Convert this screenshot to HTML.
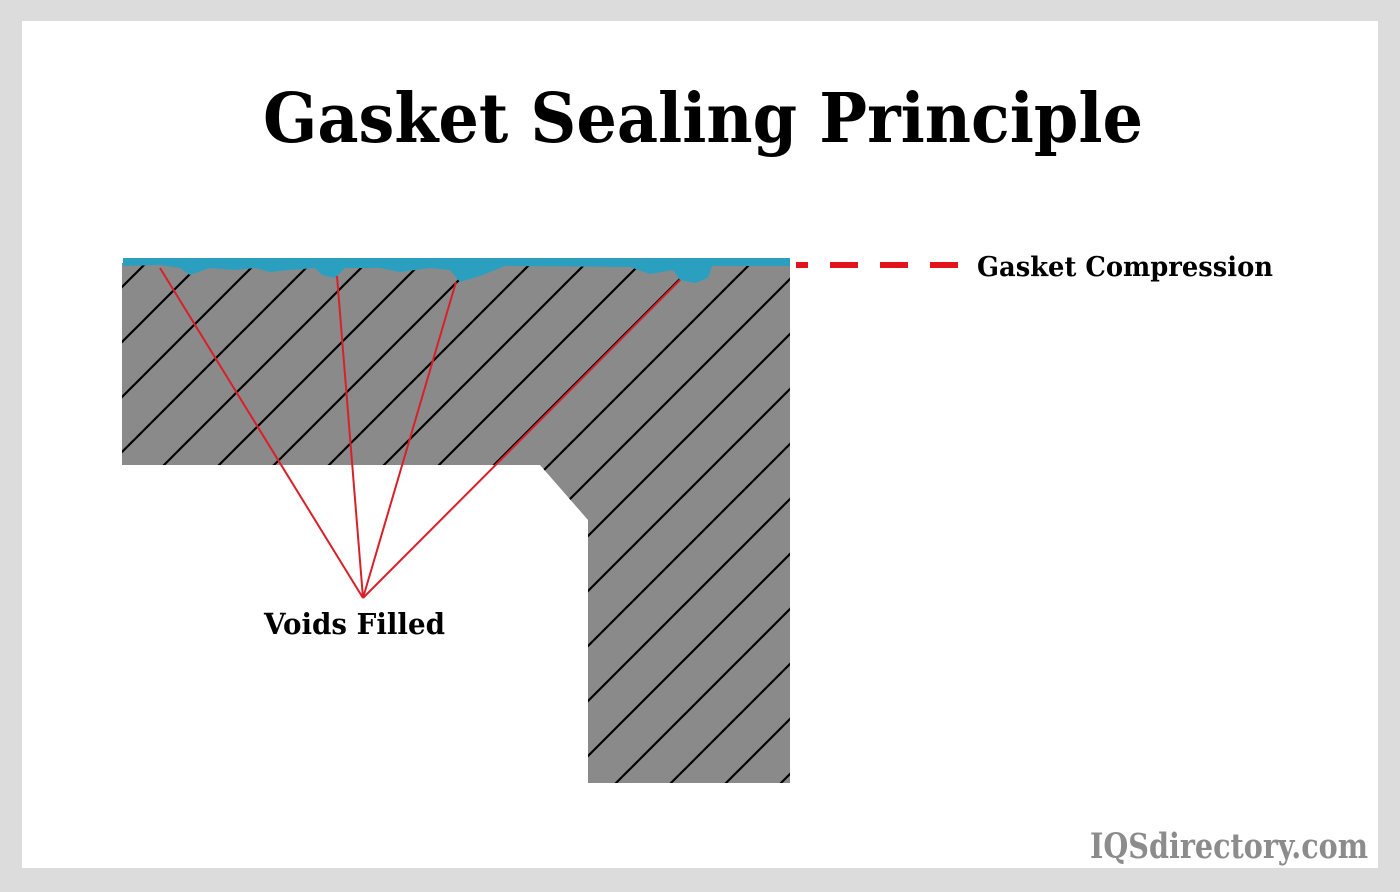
<!DOCTYPE html>
<html><head><meta charset="utf-8"><style>
html,body{margin:0;padding:0;}
body{width:1400px;height:892px;background:#dcdcdc;position:relative;overflow:hidden;}
.inner{position:absolute;left:22px;top:21px;width:1356px;height:847px;background:#fff;}
svg{position:absolute;left:0;top:0;}
</style></head><body>
<div class="inner"></div>
<svg width="1400" height="892" viewBox="0 0 1400 892">
<defs>
<pattern id="h" patternUnits="userSpaceOnUse" width="55" height="55" patternTransform="translate(24,0)">
<line x1="-5" y1="60" x2="60" y2="-5" stroke="#000" stroke-width="2.2"/>
<line x1="-5" y1="5" x2="5" y2="-5" stroke="#000" stroke-width="2.2"/>
<line x1="50" y1="60" x2="60" y2="50" stroke="#000" stroke-width="2.2"/>
</pattern>
</defs>
<text x="263" y="142" textLength="880" lengthAdjust="spacingAndGlyphs" font-family="DejaVu Serif, Liberation Serif, serif" font-weight="bold" font-size="68" fill="#000">Gasket Sealing Principle</text>
<polygon points="122,263 790,263 790,783 588,783 588,520 540,465 122,465" fill="#8a8a8a"/>
<polygon points="122,263 790,263 790,783 588,783 588,520 540,465 122,465" fill="url(#h)"/>
<path d="M123,258 L790,258 L790,266 L712,266 L708,278 L695,283 L680,280 L673,270 L650,274 L630,267 L505,266 L480,276 L460,282 L450,270 L430,268 L400,272 L380,268 L345,268 L335,278 L322,275 L315,268 L290,270 L270,272 L255,268 L235,270 L210,268 L190,275 L180,268 L160,265 L123,266 Z" fill="#2a9fc0"/>
<g stroke="#d8202a" stroke-width="2" fill="none">
<line x1="363" y1="598" x2="160" y2="268"/>
<line x1="363" y1="598" x2="337" y2="276"/>
<line x1="363" y1="598" x2="456" y2="282"/>
<line x1="363" y1="598" x2="680" y2="280"/>
</g>
<line x1="796" y1="265" x2="966" y2="265" stroke="#e3131b" stroke-width="6" stroke-dasharray="12,22,28,22,28,22,28,22,12"/>
<text x="977" y="276" textLength="296" lengthAdjust="spacingAndGlyphs" font-family="DejaVu Serif, Liberation Serif, serif" font-weight="bold" font-size="27" fill="#000">Gasket Compression</text>
<text x="264" y="634" textLength="181" lengthAdjust="spacingAndGlyphs" font-family="DejaVu Serif, Liberation Serif, serif" font-weight="bold" font-size="29" fill="#000">Voids Filled</text>
<text x="1090" y="858" textLength="278" lengthAdjust="spacingAndGlyphs" font-family="DejaVu Serif, Liberation Serif, serif" font-weight="bold" font-size="35" fill="#8c8c8c">IQSdirectory.com</text>
</svg>
</body></html>
